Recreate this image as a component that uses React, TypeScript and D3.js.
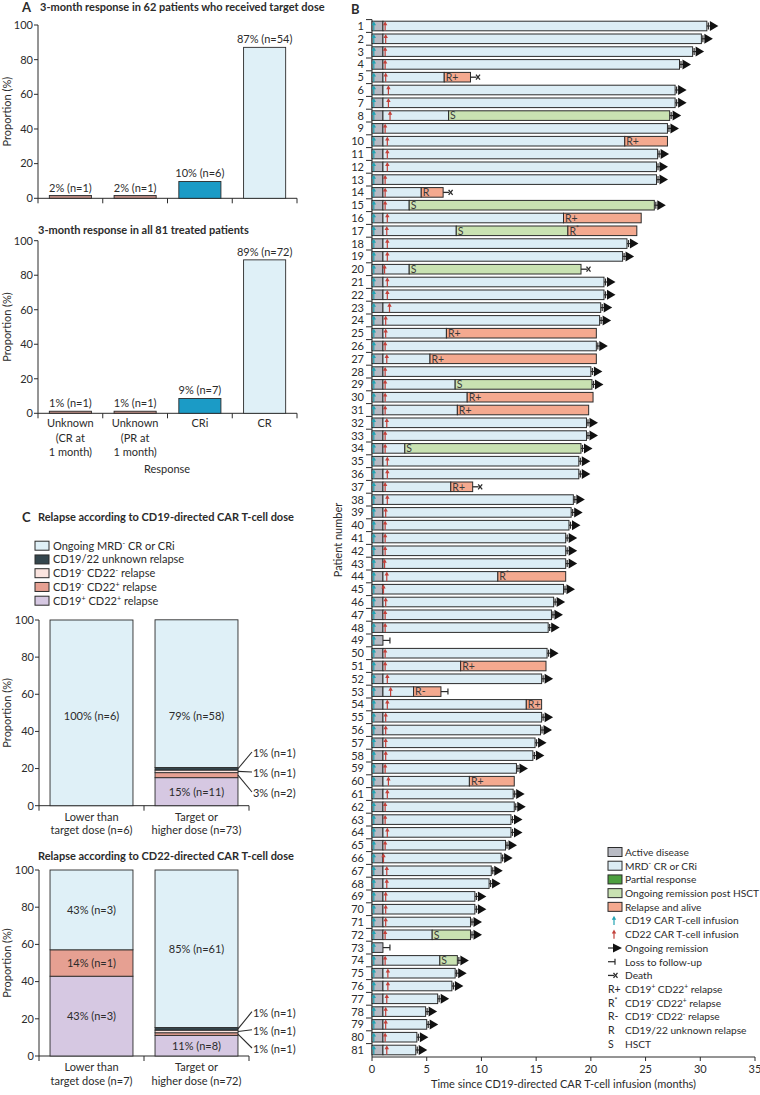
import React from 'react';
import * as d3 from 'd3';

// ---------------- Panel A data ----------------
const responseCats = ['Unknown (CR at 1 month)', 'Unknown (PR at 1 month)', 'CRi', 'CR'];
const responseCatLines = [['Unknown', '(CR at', '1 month)'], ['Unknown', '(PR at', '1 month)'], ['CRi'], ['CR']];
const targetDoseValues = [1.6, 1.6, 9.7, 87.1];
const targetDoseLabels = ['2% (n=1)', '2% (n=1)', '10% (n=6)', '87% (n=54)'];
const allTreatedValues = [1.2, 1.2, 8.6, 88.9];
const allTreatedLabels = ['1% (n=1)', '1% (n=1)', '9% (n=7)', '89% (n=72)'];
const responseColors = ['#b98a82', '#b98a82', '#1b9bc6', '#dff0f7'];
const yTicksPct = [0, 20, 40, 60, 80, 100];

// ---------------- Panel C data ----------------
const relapseKeys = ['CD19+CD22+', 'CD19-CD22+', 'CD19-CD22-', 'unknown', 'ongoing'];
const relapseColors = ['#d6c8e2', '#e6a092', '#fbe4df', '#34464d', '#dff0f7'];
const relapseLegend = [
  { key: 'ongoing', parts: [['Ongoing MRD', ''], ['-', 'sup'], [' CR or CRi', '']] },
  { key: 'unknown', parts: [['CD19/22 unknown relapse', '']] },
  { key: 'CD19-CD22-', parts: [['CD19', ''], ['-', 'sup'], [' CD22', ''], ['-', 'sup'], [' relapse', '']] },
  { key: 'CD19-CD22+', parts: [['CD19', ''], ['-', 'sup'], [' CD22', ''], ['+', 'sup'], [' relapse', '']] },
  { key: 'CD19+CD22+', parts: [['CD19', ''], ['+', 'sup'], [' CD22', ''], ['+', 'sup'], [' relapse', '']] },
];
const doseGroups = ['Lower than target dose', 'Target or higher dose'];
const cd19GroupLines = [['Lower than', 'target dose (n=6)'], ['Target or', 'higher dose (n=73)']];
const cd19Lower = [0, 0, 0, 0, 100];
const cd19Target = [15.1, 2.7, 1.4, 1.4, 79.5];
const cd19LowerLabels = ['', '', '', '', '100% (n=6)'];
const cd19TargetLabels = ['15% (n=11)', '3% (n=2)', '1% (n=1)', '1% (n=1)', '79% (n=58)'];
const cd22GroupLines = [['Lower than', 'target dose (n=7)'], ['Target or', 'higher dose (n=72)']];
const cd22Lower = [42.9, 14.2, 0, 0, 42.9];
const cd22Target = [11.1, 1.4, 1.4, 1.4, 84.7];
const cd22LowerLabels = ['43% (n=3)', '14% (n=1)', '', '', '43% (n=3)'];
const cd22TargetLabels = ['11% (n=8)', '1% (n=1)', '1% (n=1)', '1% (n=1)', '85% (n=61)'];

// ---------------- Panel B data ----------------
const patientIds = d3.range(1, 82);
const followUpMonths = [
  30.6, 30.1, 29.3, 28.1, 9.0, 27.7, 27.7, 27.2, 27.0, 27.0,
  26.1, 26.0, 26.0, 6.5, 25.8, 24.6, 24.2, 23.3, 22.9, 19.1,
  21.2, 21.2, 20.9, 20.8, 20.5, 20.5, 20.5, 20.0, 20.1, 20.2,
  19.8, 19.6, 19.6, 19.1, 18.9, 18.9, 9.2, 18.4, 18.2, 18.0,
  17.7, 17.7, 17.7, 17.7, 17.5, 16.6, 16.4, 16.1, 1.0, 16.0,
  15.9, 15.5, 6.3, 15.5, 15.5, 15.4, 14.9, 14.7, 13.2, 13.0,
  12.9, 13.0, 12.7, 12.7, 12.2, 11.8, 10.9, 10.7, 9.4, 9.4,
  9.0, 9.0, 1.0, 7.8, 7.6, 7.3, 6.0, 4.9, 5.0, 4.1, 4.0,
];
const activeDiseaseEnd = 1.0;
const cd22Infusion = [
  1.2, 1.25, 1.2, 1.2, 1.25, 1.5, 1.5, 1.65, 1.2, 1.4,
  1.4, 1.4, 1.2, 1.2, 1.2, 1.4, 1.35, 1.4, 1.4, 1.15,
  1.4, 1.4, 1.6, 1.25, 1.25, 1.2, 1.35, 1.2, 1.2, 1.2,
  1.2, 1.35, 1.2, 1.2, 1.4, 1.4, 1.2, 1.4, 1.25, 1.2,
  1.2, 1.2, 1.15, 1.35, 1.05, 1.25, 1.2, 1.2, null, 1.2,
  1.2, 1.4, 1.7, 1.4, 1.25, 1.25, 1.25, 1.25, 1.2, 1.5,
  1.4, 1.2, 1.2, 1.4, 1.2, 1.05, 1.35, 1.35, 1.25, 1.25,
  1.25, 1.2, null, 1.2, 1.45, 1.45, 1.35, 1.25, 1.25, 1.2, 1.35,
];
const deathPatients = [5, 14, 20, 37];
const lossPatients = [49, 53, 73];
const relapseAlivePatients = [10, 16, 17, 25, 27, 30, 31, 44, 51, 54, 60];
const hsctEvents = [[8, 7.0], [15, 3.4], [17, 7.7], [20, 3.4], [29, 7.6], [34, 3.0], [72, 5.5], [74, 6.2]];
const relapseEvents = [
  [5, 'R+', 6.6], [10, 'R+', 23.1], [14, 'R', 4.5], [16, 'R+', 17.5], [17, 'R*', 17.9],
  [25, 'R+', 6.8], [27, 'R+', 5.3], [30, 'R+', 8.7], [31, 'R+', 7.8], [37, 'R+', 7.2],
  [44, 'R*', 11.5], [51, 'R+', 8.1], [53, 'R-', 3.8], [54, 'R+', 14.1], [60, 'R+', 8.9],
];
const timeTicks = [0, 5, 10, 15, 20, 25, 30, 35];

const C_ACTIVE = '#b9bbc4';
const C_MRD = '#dcedf5';
const C_PARTIAL = '#4d9f3f';
const C_HSCT = '#c9e2b2';
const C_RELAPSE = '#f4a98f';
const C_TEAL = '#23a3b3';
const C_RED = '#c2413a';
const INK = '#2b2b2b';
const FONT = "Lato, 'Open Sans', sans-serif";

function RichText({ parts, x, y, size = 11, anchor = 'start' }) {
  return (
    <text x={x} y={y} fontSize={size} textAnchor={anchor} fill={INK}>
      {parts.map((p, i) =>
        p[1] === 'sup' ? (
          <tspan key={i} fontSize={size * 0.65} dy={-size * 0.38}>{p[0]}</tspan>
        ) : (
          <tspan key={i} dy={i > 0 && parts[i - 1][1] === 'sup' ? size * 0.38 : 0}>{p[0]}</tspan>
        )
      )}
    </text>
  );
}

function YAxisPct({ y, x0, labelY }) {
  return (
    <g>
      <line x1={x0} x2={x0} y1={y(0)} y2={y(100)} stroke={INK} />
      {yTicksPct.map((t) => (
        <g key={t}>
          <line x1={x0 - 4} x2={x0} y1={y(t)} y2={y(t)} stroke={INK} />
          <text x={x0 - 5} y={y(t)} dy="0.35em" fontSize={11} textAnchor="end" fill={INK}>{t}</text>
        </g>
      ))}
      <text transform={`translate(11,${labelY}) rotate(-90)`} fontSize={11} textAnchor="middle" fill={INK}>Proportion (%)</text>
    </g>
  );
}

function ResponseChart({ top, bottom, values, labels, showCats }) {
  const x = d3.scaleBand(responseCats, [38, 297]).paddingInner(0.35).paddingOuter(0.175);
  const y = d3.scaleLinear([0, 100], [bottom, top]);
  const gap = (x.step() - x.bandwidth()) / 2;
  const bounds = responseCats.map((c) => x(c) - gap).concat([x(responseCats[3]) + x.bandwidth() + gap]);
  return (
    <g>
      <YAxisPct y={y} x0={38} labelY={(top + bottom) / 2} />
      <line x1={38} x2={297} y1={y(0)} y2={y(0)} stroke={INK} />
      {bounds.map((b, i) => (
        <line key={i} x1={b} x2={b} y1={y(0)} y2={y(0) + 5} stroke={INK} />
      ))}
      {responseCats.map((c, i) => (
        <g key={c}>
          <rect x={x(c)} y={y(values[i])} width={x.bandwidth()} height={y(0) - y(values[i])} fill={responseColors[i]} stroke={INK} strokeWidth={0.9} />
          <text x={x(c) + x.bandwidth() / 2} y={y(values[i]) - 4} fontSize={11} textAnchor="middle" fill={INK}>{labels[i]}</text>
          {showCats &&
            responseCatLines[i].map((ln, j) => (
              <text key={j} x={x(c) + x.bandwidth() / 2} y={y(0) + 14 + j * 14.5} fontSize={11} textAnchor="middle" fill={INK}>{ln}</text>
            ))}
        </g>
      ))}
    </g>
  );
}

function StackChart({ top, bottom, series, labels, groupLines, topLabelAt, calloutYs }) {
  const x = d3.scaleBand(doseGroups, [39, 249]).paddingInner(0.21).paddingOuter(0.105);
  const y = d3.scaleLinear([0, 100], [bottom, top]);
  const gap = (x.step() - x.bandwidth()) / 2;
  const bounds = [39, x(doseGroups[1]) - gap, 249];
  return (
    <g>
      <YAxisPct y={y} x0={39} labelY={(top + bottom) / 2} />
      <line x1={39} x2={249} y1={y(0)} y2={y(0)} stroke={INK} />
      {bounds.map((b, i) => (
        <line key={i} x1={b} x2={b} y1={y(0)} y2={y(0) + 5} stroke={INK} />
      ))}
      {doseGroups.map((g, gi) => {
        const vals = series[gi];
        const labs = labels[gi];
        let cum = 0;
        const segs = vals.map((v, k) => {
          const s = { k, lo: cum, hi: cum + v };
          cum += v;
          return s;
        });
        const bx = x(g);
        const bw = x.bandwidth();
        const cx = bx + bw / 2;
        return (
          <g key={g}>
            {segs.filter((s) => s.hi > s.lo).map((s) => (
              <rect key={s.k} x={bx} y={y(s.hi)} width={bw} height={y(s.lo) - y(s.hi)} fill={relapseColors[s.k]} stroke={INK} strokeWidth={0.9} />
            ))}
            {segs.map((s) => {
              if (!labs[s.k] || s.hi - s.lo <= 0) return null;
              const small = s.hi - s.lo < 5;
              if (small) return null;
              const v = s.k === 4 && topLabelAt != null ? topLabelAt : (s.lo + s.hi) / 2;
              return (
                <text key={'l' + s.k} x={cx} y={y(v)} dy="0.35em" fontSize={11} textAnchor="middle" fill={INK}>{labs[s.k]}</text>
              );
            })}
            {gi === 1 &&
              [3, 2, 1].map((k, j) => {
                const s = segs[k];
                const ty = calloutYs[j];
                return (
                  <g key={'c' + k}>
                    <line x1={bx + bw} y1={y((s.lo + s.hi) / 2)} x2={bx + bw + 14} y2={ty - 1} stroke={INK} strokeWidth={1.1} />
                    <text x={bx + bw + 15} y={ty} dy="0.35em" fontSize={11} fill={INK}>{labs[k]}</text>
                  </g>
                );
              })}
            {groupLines[gi].map((ln, j) => (
              <text key={j} x={cx} y={y(0) + 15 + j * 13.5} fontSize={11} textAnchor="middle" fill={INK}>{ln}</text>
            ))}
          </g>
        );
      })}
    </g>
  );
}

function UpArrow({ x, cy, color }) {
  return (
    <g>
      <line x1={x} x2={x} y1={cy + 4.5} y2={cy - 1.5} stroke={color} strokeWidth={1.2} />
      <path d={`M${x - 2.2},${cy - 0.8} L${x},${cy - 4.8} L${x + 2.2},${cy - 0.8} Z`} fill={color} />
    </g>
  );
}

function OngoingMark({ x, cy }) {
  return (
    <g>
      <line x1={x} x2={x + 4} y1={cy} y2={cy} stroke={INK} strokeWidth={1.2} />
      <line x1={x + 1.5} x2={x + 1.5} y1={cy - 3.5} y2={cy + 3.5} stroke={INK} strokeWidth={1.2} />
      <path d={`M${x + 3},${cy - 5} L${x + 11.5},${cy} L${x + 3},${cy + 5} Z`} fill="#111" />
    </g>
  );
}
function DeathMark({ x, cy }) {
  return (
    <g stroke={INK} strokeWidth={1.3}>
      <line x1={x} x2={x + 6} y1={cy} y2={cy} />
      <line x1={x + 5.5} x2={x + 9.5} y1={cy - 2.5} y2={cy + 2.5} />
      <line x1={x + 5.5} x2={x + 9.5} y1={cy + 2.5} y2={cy - 2.5} />
    </g>
  );
}
function LossMark({ x, cy }) {
  return (
    <g stroke={INK} strokeWidth={1.2}>
      <line x1={x} x2={x + 7} y1={cy} y2={cy} />
      <line x1={x + 7} x2={x + 7} y1={cy - 3} y2={cy + 3} />
    </g>
  );
}

function EventLabel({ x, cy, code }) {
  const base = code[0];
  const rest = code.slice(1);
  return (
    <text x={x + 1.5} y={cy + 3.8} fontSize={10.5} fill="#3a3a3a">
      {base}
      {rest === '*' ? <tspan fontSize={7} dy={-4}>*</tspan> : rest}
    </text>
  );
}

function PanelB() {
  const x = d3.scaleLinear([0, 35], [372, 755]);
  const y = d3.scalePoint(patientIds, [26, 1050]);
  const step = y.step();
  const bh = 9.6;
  const axisY = 1057;
  return (
    <g>
      <text x={351} y={14} fontSize={13} fontWeight="bold" fill={INK}>B</text>
      <line x1={x(0)} x2={x(0)} y1={y(1) - step / 2} y2={axisY} stroke={INK} />
      {patientIds.map((id, i) => {
        const cy = y(id);
        const end = followUpMonths[i];
        const evs = [
          ...hsctEvents.filter((e) => e[0] === id).map((e) => ({ code: 'S', t: e[1], state: C_HSCT })),
          ...relapseEvents.filter((e) => e[0] === id).map((e) => ({ code: e[1], t: e[2], state: C_RELAPSE })),
        ].sort((a, b) => a.t - b.t);
        const segs = [{ a: 0, b: Math.min(activeDiseaseEnd, end), c: C_ACTIVE }];
        if (end > activeDiseaseEnd) {
          let cur = activeDiseaseEnd;
          let col = C_MRD;
          evs.forEach((e) => {
            segs.push({ a: cur, b: e.t, c: col });
            cur = e.t;
            col = e.state;
          });
          segs.push({ a: cur, b: end, c: col });
        }
        const xe = x(end);
        let mark = 'ongoing';
        if (deathPatients.includes(id)) mark = 'death';
        else if (lossPatients.includes(id)) mark = 'loss';
        else if (relapseAlivePatients.includes(id)) mark = 'none';
        const t22 = cd22Infusion[i];
        return (
          <g key={id}>
            <line x1={x(0) - 6} x2={x(0)} y1={cy - step / 2} y2={cy - step / 2} stroke={INK} />
            <text x={364} y={cy} dy="0.36em" fontSize={11} textAnchor="end" fill={INK}>{id}</text>
            {segs.map((s, k) => (
              <rect key={k} x={x(s.a)} y={cy - bh / 2} width={x(s.b) - x(s.a)} height={bh} fill={s.c} stroke={INK} strokeWidth={1} />
            ))}
            {evs.map((e, k) => (
              <EventLabel key={k} x={x(e.t)} cy={cy} code={e.code} />
            ))}
            <UpArrow x={x(0) + 1.8} cy={cy} color={C_TEAL} />
            {t22 != null && <UpArrow x={x(t22)} cy={cy} color={C_RED} />}
            {mark === 'ongoing' && <OngoingMark x={xe} cy={cy} />}
            {mark === 'death' && <DeathMark x={xe} cy={cy} />}
            {mark === 'loss' && <LossMark x={xe} cy={cy} />}
          </g>
        );
      })}
      <line x1={x(0)} x2={x(35)} y1={axisY} y2={axisY} stroke={INK} />
      {timeTicks.map((t) => (
        <g key={t}>
          <line x1={x(t)} x2={x(t)} y1={axisY} y2={axisY + 4} stroke={INK} />
          <text x={x(t)} y={axisY + 16} fontSize={11} textAnchor="middle" fill={INK}>{t}</text>
        </g>
      ))}
      <text x={(x(0) + x(35)) / 2} y={axisY + 31} fontSize={11} textAnchor="middle" fill={INK}>Time since CD19-directed CAR T-cell infusion (months)</text>
      <text transform={`translate(342,540) rotate(-90)`} fontSize={11} textAnchor="middle" fill={INK}>Patient number</text>
      <LegendB />
    </g>
  );
}

const legendBItems = [
  { kind: 'swatch', color: C_ACTIVE, parts: [['Active disease', '']] },
  { kind: 'swatch', color: C_MRD, parts: [['MRD', ''], ['-', 'sup'], [' CR or CRi', '']] },
  { kind: 'swatch', color: C_PARTIAL, parts: [['Partial response', '']] },
  { kind: 'swatch', color: C_HSCT, parts: [['Ongoing remission post HSCT', '']] },
  { kind: 'swatch', color: C_RELAPSE, parts: [['Relapse and alive', '']] },
  { kind: 'teal', parts: [['CD19 CAR T-cell infusion', '']] },
  { kind: 'red', parts: [['CD22 CAR T-cell infusion', '']] },
  { kind: 'ongoing', parts: [['Ongoing remission', '']] },
  { kind: 'loss', parts: [['Loss to follow-up', '']] },
  { kind: 'death', parts: [['Death', '']] },
  { kind: 'code', code: 'R+', parts: [['CD19', ''], ['+', 'sup'], [' CD22', ''], ['+', 'sup'], [' relapse', '']] },
  { kind: 'code', code: 'R*', parts: [['CD19', ''], ['-', 'sup'], [' CD22', ''], ['+', 'sup'], [' relapse', '']] },
  { kind: 'code', code: 'R-', parts: [['CD19', ''], ['-', 'sup'], [' CD22', ''], ['-', 'sup'], [' relapse', '']] },
  { kind: 'code', code: 'R', parts: [['CD19/22 unknown relapse', '']] },
  { kind: 'code', code: 'S', parts: [['HSCT', '']] },
];

function LegendB() {
  const y = d3.scalePoint(d3.range(legendBItems.length), [852, 1044]);
  const sx = 608;
  return (
    <g>
      {legendBItems.map((it, i) => {
        const cy = y(i);
        let icon = null;
        if (it.kind === 'swatch') icon = <rect x={sx} y={cy - 4.5} width={14} height={9} fill={it.color} stroke={INK} strokeWidth={1} />;
        else if (it.kind === 'teal') icon = <UpArrow x={sx + 6} cy={cy} color={C_TEAL} />;
        else if (it.kind === 'red') icon = <UpArrow x={sx + 6} cy={cy} color={C_RED} />;
        else if (it.kind === 'ongoing') icon = (
          <g>
            <line x1={sx} x2={sx + 6} y1={cy} y2={cy} stroke={INK} strokeWidth={1.2} />
            <path d={`M${sx + 5},${cy - 4.5} L${sx + 14},${cy} L${sx + 5},${cy + 4.5} Z`} fill="#111" />
          </g>
        );
        else if (it.kind === 'loss') icon = <LossMark x={sx} cy={cy} />;
        else if (it.kind === 'death') icon = <DeathMark x={sx} cy={cy} />;
        else if (it.kind === 'code')
          icon = (
            <text x={sx} y={cy} dy="0.36em" fontSize={10.5} fill={INK}>
              {it.code[0]}
              {it.code.slice(1) === '*' ? <tspan fontSize={7} dy={-4}>*</tspan> : it.code.slice(1)}
            </text>
          );
        return (
          <g key={i}>
            {icon}
            <g transform={`translate(0,${cy})`}>
              <RichText parts={it.parts} x={625} y={3.8} size={10.2} />
            </g>
          </g>
        );
      })}
    </g>
  );
}

function LegendC() {
  const y = d3.scalePoint(d3.range(relapseLegend.length), [545.7, 600.7]);
  return (
    <g>
      {relapseLegend.map((it, i) => {
        const k = relapseKeys.indexOf(it.key);
        const cy = y(i);
        return (
          <g key={it.key}>
            <rect x={35} y={cy - 4.5} width={14} height={9} fill={relapseColors[k]} stroke={INK} strokeWidth={1} />
            <g transform={`translate(0,${cy})`}>
              <RichText parts={it.parts} x={53} y={4} size={11} />
            </g>
          </g>
        );
      })}
    </g>
  );
}

export default function App() {
  return (
    <svg width={760} height={1095} style={{ position: 'absolute', left: 0, top: 0, background: '#fff' }} fontFamily={FONT}>
      {/* Panel A */}
      <text x={22} y={12} fontSize={13} fontWeight="bold" fill={INK}>A</text>
      <text x={40} y={11} fontSize={11} fontWeight="bold" fill={INK}>3-month response in 62 patients who received target dose</text>
      <ResponseChart top={25} bottom={198.3} values={targetDoseValues} labels={targetDoseLabels} showCats={false} />
      <text x={38} y={234} fontSize={11} fontWeight="bold" fill={INK}>3-month response in all 81 treated patients</text>
      <ResponseChart top={240.7} bottom={413.3} values={allTreatedValues} labels={allTreatedLabels} showCats={true} />
      <text x={167} y={473} fontSize={11} textAnchor="middle" fill={INK}>Response</text>

      {/* Panel C */}
      <text x={22} y={522} fontSize={13} fontWeight="bold" fill={INK}>C</text>
      <text x={38} y={521} fontSize={11} fontWeight="bold" fill={INK}>Relapse according to CD19-directed CAR T-cell dose</text>
      <LegendC />
      <StackChart top={620} bottom={805.7} series={[cd19Lower, cd19Target]} labels={[cd19LowerLabels, cd19TargetLabels]} groupLines={cd19GroupLines} topLabelAt={48} calloutYs={[753, 773, 793]} />
      <text x={38} y={860} fontSize={11} fontWeight="bold" fill={INK}>Relapse according to CD22-directed CAR T-cell dose</text>
      <StackChart top={870} bottom={1056} series={[cd22Lower, cd22Target]} labels={[cd22LowerLabels, cd22TargetLabels]} groupLines={cd22GroupLines} topLabelAt={null} calloutYs={[1012.7, 1030.7, 1049]} />

      {/* Panel B */}
      <PanelB />
    </svg>
  );
}
